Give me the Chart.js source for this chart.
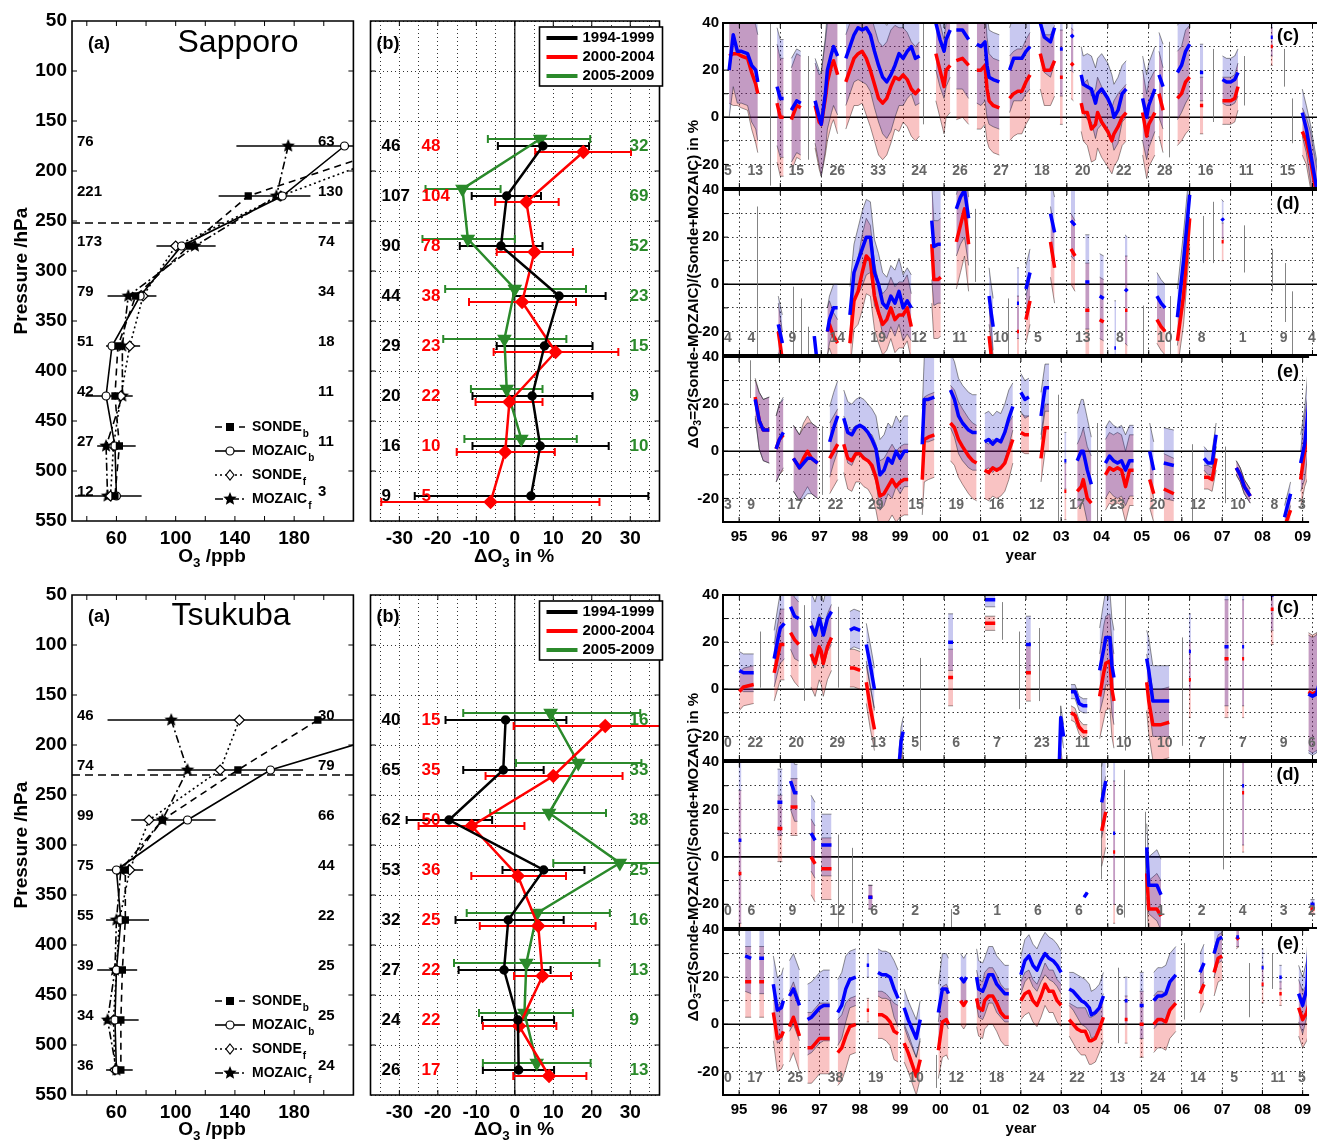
<!DOCTYPE html>
<html>
<head>
<meta charset="utf-8">
<title>Sonde vs MOZAIC ozone, Sapporo and Tsukuba</title>
<script src="https://cdn.jsdelivr.net/npm/chart.js@4.4.1/dist/chart.umd.min.js"></script>
<style>
  body { margin: 0; background: #fff; }
  #page { position: relative; width: 1317px; height: 1144px; overflow: hidden; font-family: "Liberation Sans", Arial, sans-serif; }
  canvas { position: absolute; }
  .t { position: absolute; white-space: nowrap; transform: translate(-50%, -50%); font-weight: bold; color: #000; }
  .t sub { font-size: 70%; vertical-align: -0.35em; line-height: 0; }
  .rot { transform: translate(-50%, -50%) rotate(-90deg); }
</style>
</head>
<body>
<div id="page">
  <canvas id="sapA" width="362" height="560" style="left:0px;top:0px"></canvas>
  <canvas id="sapB" width="306" height="560" style="left:362px;top:0px"></canvas>
  <canvas id="sapC" width="637" height="191" style="left:680px;top:10px"></canvas>
  <canvas id="sapD" width="637" height="191" style="left:680px;top:177px"></canvas>
  <canvas id="sapE" width="637" height="213" style="left:680px;top:344px"></canvas>
  <canvas id="tsuA" width="362" height="560" style="left:0px;top:574px"></canvas>
  <canvas id="tsuB" width="306" height="560" style="left:362px;top:574px"></canvas>
  <canvas id="tsuC" width="637" height="191" style="left:680px;top:582px"></canvas>
  <canvas id="tsuD" width="637" height="192" style="left:680px;top:749px"></canvas>
  <canvas id="tsuE" width="637" height="213" style="left:680px;top:917px"></canvas>

  <div class="t rot" style="left:21px;top:271px;font-size:19px">Pressure /hPa</div>
  <div class="t" style="left:212px;top:556px;font-size:19px">O<sub>3</sub> /ppb</div>
  <div class="t" style="left:514px;top:556px;font-size:19px">&Delta;O<sub>3</sub> in %</div>
  <div class="t" style="left:1021px;top:554px;font-size:15px">year</div>
  <div class="t rot" style="left:692px;top:284px;font-size:15px">&Delta;O<sub>3</sub>=2(Sonde-MOZAIC)/(Sonde+MOZAIC) in %</div>
  <div class="t" style="left:99px;top:43px;font-size:18px">(a)</div>
  <div class="t" style="left:238px;top:41px;font-size:32px;font-weight:normal">Sapporo</div>
  <div class="t" style="left:388px;top:43px;font-size:18px">(b)</div>
  <div class="t" style="left:1288px;top:35px;font-size:18px">(c)</div>
  <div class="t" style="left:1288px;top:203px;font-size:18px">(d)</div>
  <div class="t" style="left:1288px;top:371px;font-size:18px">(e)</div>

  <div class="t rot" style="left:21px;top:845px;font-size:19px">Pressure /hPa</div>
  <div class="t" style="left:212px;top:1129px;font-size:19px">O<sub>3</sub> /ppb</div>
  <div class="t" style="left:514px;top:1129px;font-size:19px">&Delta;O<sub>3</sub> in %</div>
  <div class="t" style="left:1021px;top:1127px;font-size:15px">year</div>
  <div class="t rot" style="left:692px;top:857px;font-size:15px">&Delta;O<sub>3</sub>=2(Sonde-MOZAIC)/(Sonde+MOZAIC) in %</div>
  <div class="t" style="left:99px;top:616px;font-size:18px">(a)</div>
  <div class="t" style="left:231px;top:614px;font-size:32px;font-weight:normal">Tsukuba</div>
  <div class="t" style="left:388px;top:616px;font-size:18px">(b)</div>
  <div class="t" style="left:1288px;top:607px;font-size:18px">(c)</div>
  <div class="t" style="left:1288px;top:774px;font-size:18px">(d)</div>
  <div class="t" style="left:1288px;top:943px;font-size:18px">(e)</div>
</div>

<script>
// ---------- profile panels (a) ----------
const levels = [175, 225, 275, 325, 375, 425, 475, 525];

const sapSondeB = [250, 149, 109, 73, 61, 59, 62, 59];
const sapMozB   = [214, 172, 104, 76, 57, 53, 59, 60];
const sapSondeF = [261, 171, 100, 78, 69, 63, 58, 56];
const sapMozF   = [176, 168, 113, 68, 64, 64, 53, 54];
const sapErrLo  = [141, 129, 87, 54, 53, 39, 47, 32];
const sapErrHi  = [240, 191, 127, 87, 76, 71, 73, 77];
const sapTrop   = 252;
const sapCntL   = [76, 221, 173, 79, 51, 42, 27, 12];
const sapCntR   = [63, 130, 74, 34, 18, 11, 11, 3];

const tsuSondeB = [196, 142, 91, 66, 66, 64, 63, 63];
const tsuMozB   = [276, 164, 108, 60, 63, 60, 59, 60];
const tsuSondeF = [143, 130, 82, 69, 62, 60, 58, 59];
const tsuMozF   = [97, 108, 91, 63, 60, 59, 54, 60];
const tsuErrLo  = [54, 81, 70, 53, 53, 47, 51, 53];
const tsuErrHi  = [240, 186, 127, 78, 82, 74, 75, 71];
const tsuTrop   = 230;
const tsuCntL   = [46, 74, 99, 75, 55, 39, 34, 36];
const tsuCntR   = [30, 79, 66, 44, 22, 25, 25, 24];

// ---------- difference panels (b) ----------
const periods = ['1994-1999', '2000-2004', '2005-2009'];

const sapBlk   = [7.3, -2.1, -3.6, 11.5, 7.7, 4.5, 6.6, 4.2];
const sapBlkLo = [-4.4, -11.2, -14.3, -0.4, -4.7, -11.0, -11.0, -26];
const sapBlkHi = [19.3, 6.8, 7.2, 23.6, 20.2, 20.2, 24.4, 34.7];
const sapRed   = [17.8, 3.0, 5.1, 1.9, 10.6, -1.4, -2.5, -6.3];
const sapRedLo = [5.3, -5.1, -4.7, -11.9, -5.5, -10.2, -15.1, -34.7];
const sapRedHi = [30.2, 11.4, 15.1, 15.9, 26.9, 7.2, 10.4, 22.0];
const sapGrn   = [6.6, -13.6, -12.2, 0, -2.7, -2.1, 1.7, null];
const sapGrnLo = [-7, -23.2, -24, -18.1, -18.6, -11.4, -13.1, null];
const sapGrnHi = [19.6, -3.7, 0, 18.5, 13.4, 7.2, 16.1, null];
const sapNBlk  = [46, 107, 90, 44, 29, 20, 16, 9];
const sapNRed  = [48, 104, 78, 38, 23, 22, 10, 5];
const sapNGrn  = [32, 69, 52, 23, 15, 9, 10, null];

const tsuBlk   = [-2.4, -3.0, -17.1, 7.5, -1.7, -2.8, 0.8, 1.0];
const tsuBlkLo = [-18, -13.4, -28.1, -3.2, -15.4, -14.6, -8.5, -8.3];
const tsuBlkHi = [13.4, 7.5, -5.9, 18.1, 12.7, 9.3, 10.2, 10.2];
const tsuRed   = [23.5, 10.0, -11.2, 0.8, 6.1, 7.2, 1.1, 8.9];
const tsuRedLo = [-0.3, -7.6, -25, -11.3, -9.1, -0.2, -8.3, -0.4];
const tsuRedHi = [40, 28, 2.5, 13.3, 21, 14.6, 10.8, 18.6];
const tsuGrn   = [9.3, 16.5, 8.9, 27.3, 5.8, 3.0, 2.5, 5.7];
const tsuGrnLo = [-13.4, 0.3, -6.4, 10.0, -12.5, -15.8, -9.3, -8.3];
const tsuGrnHi = [32.6, 32.9, 23.7, 40, 24.7, 22, 15.1, 19.7];
const tsuNBlk  = [40, 65, 62, 53, 32, 27, 24, 26];
const tsuNRed  = [15, 35, 50, 36, 25, 22, 22, 17];
const tsuNGrn  = [16, 33, 38, 25, 16, 13, 9, 13];

// ---------- time series panels (c)(d)(e): x = year, b = blue, r = red, s = spread, g = single profiles [year, lo, hi] ----------
const countYears = [1994, 1995, 1996, 1997, 1998, 1999, 2000, 2001, 2002, 2003, 2004, 2005, 2006, 2007, 2008, 2009];

const sapCx = [[1994.75,1994.85,1994.95,1995.05,1995.2,1995.3,1995.4,1995.45],[1995.92,1996.0,1996.08],[1996.27,1996.4,1996.5],
  [1996.85,1996.95,1997.0,1997.1,1997.15,1997.25,1997.3,1997.4],
  [1997.6,1997.7,1997.8,1997.9,1998.0,1998.1,1998.2,1998.3,1998.4,1998.5,1998.6,1998.7,1998.8,1998.9,1999.0,1999.1,1999.2,1999.3,1999.4],
  [1999.8,1999.9,2000.0,2000.05,2000.15],[2000.3,2000.45,2000.6],[2000.8,2000.9,2001.0,2001.05,2001.1,2001.2,2001.35],
  [2001.6,2001.7,2001.8,2001.9,2002.0,2002.1],[2002.35,2002.45,2002.6,2002.7],[2002.83,2002.9],[2003.1,2003.16],
  [2003.35,2003.4,2003.5,2003.6,2003.7,2003.75,2003.85,2004.0,2004.1,2004.15,2004.25,2004.35,2004.45],
  [2004.85,2004.95,2005.0,2005.15],[2005.25,2005.35],[2005.7,2005.8,2005.9,2006.0],[2006.25,2006.33],
  [2006.8,2006.9,2007.0,2007.1,2007.18],[2007.98,2008.03],[2008.75,2008.85,2008.95,2009.05,2009.15]];
const sapCb = [[20,35,28,28,27,22,20,15],[13,8,8],[3,7,6],[7,0,-3,10,20,27,30,26],
  [25,30,35,38,37,38,35,28,22,17,15,18,22,27,25,28,30,25,26],[40,33,28,33,37],[37,37,33],[31,30,32,22,17,16,15],
  [20,25,25,25,28,30],[40,34,32,38],[29,29],[35,34],[18,14,13,12,6,10,12,8,4,0,3,10,12],[8,0,5,12],[18,13],
  [19,22,28,31],[19,19],[16,15,15,16,19],[34,34],[2,-5,-15,-25,-35]];
const sapCr = [[26,27,27,26,25,19,14,10],[6,0,0],[-1,5,4],[5,-2,-3,8,15,22,24,18],
  [15,20,25,27,28,25,20,14,8,6,8,13,17,16,18,16,12,10,12],[27,20,13,20,22],[24,25,22],[20,20,22,12,7,5,4],
  [8,10,11,11,15,18],[27,20,20,24],[17,17],[23,22],[6,2,2,-5,-3,2,-2,-6,-10,-7,-4,0,2],[2,-8,-3,2],[10,3],
  [8,10,15,17],[5,5],[7,7,7,8,13],[30,30],[-6,-10,-18,-28,-38]];
const sapCs = [[20,22,22,22,22,24,25,25],[25,25,25],[22,22,22],[18,20,22,24,25,25,25,25],
  [20,20,20,22,22,24,24,24,24,24,24,24,22,22,20,20,20,20,20],[20,20,20,20,20],[25,25,25],[25,25,25,22,20,20,20],
  [18,18,18,18,18,18],[15,15,15,15],[20,20],[15,15],[12,12,14,14,15,15,15,15,14,14,14,12,12],[18,18,18,18],[18,18],
  [20,20,22,22],[12,12],[10,10,10,10,10],[8,8],[10,10,12,12,12]];
const sapCg = [[1995.76,-29,40],[1996.67,-18,26],[1999.49,-3,40],[2005.5,-17,32],[2006.58,-2,29],[2007.33,5,26],
  [2008.31,13,29],[2008.49,-11,8]];
const sapCn = ['5','13','15','26','33','24','26','27','18','20','22','28','16','11','15',''];

const sapDx = [[1995.95,1996.05],[1996.83,1996.88],[1997.15,1997.2,1997.3,1997.4],
  [1997.7,1997.8,1997.9,1998.0,1998.1,1998.2,1998.3,1998.4,1998.5,1998.6,1998.7,1998.8,1998.9,1999.0,1999.1,1999.2],
  [1999.7,1999.75,1999.85,1999.92],[2000.3,2000.4,2000.5,2000.6],[2001.1,2001.15,2001.2],[2001.78,2001.83],[2002.0,2002.1],
  [2002.6,2002.7],[2003.1,2003.2],[2003.45,2003.55],[2003.8,2003.9],[2004.16,2004.2],[2004.42,2004.48],[2005.2,2005.3,2005.4],
  [2005.7,2005.85,2006.0],[2006.78,2006.83]];
const sapDb = [[-17,-25],[-22,-30],[-20,-15,-10,-10],[-13,5,10,15,20,20,5,0,-8,-10,-5,-8,-3,-10,-7,-10],[27,16,17,17],
  [32,37,40,28],[-5,-12,-18],[-8,-8],[-2,5],[30,22],[27,25],[1,1],[-5,-6],[-27,-27],[-2,-3],[-5,-8,-10],[-14,10,38],[28,27]];
const sapDr = [[-20,-32],[null,null],[-20,-17,-22,-25],[-25,-7,-3,5,12,10,-5,-12,-17,-15,-10,-15,-13,-13,-10,-18],[17,2,2,3],
  [18,25,32,17],[-22,-30,-40],[-20,-20],[-15,-7],[18,7],[15,12],[-11,-11],[-15,-16],[null,null],[-11,-11],[-15,-18,-20],
  [-24,-5,28],[18,18]];
const sapDs = [[12,12],[0,0],[10,10,10,10],[12,12,14,16,16,15,14,13,13,13,13,14,14,14,14,14],[25,25,25,25],[20,20,20,20],
  [12,12,12],[15,15],[10,10],[15,15],[15,15],[20,20],[18,18],[20,20],[23,23],[10,10,10],[12,12,12],[8,8]];
const sapDg = [[1995.43,-30,33],[1996.31,-30,-1],[1996.51,-30,-6],[1996.67,-30,-18],[2000.76,1,32],[2001.57,-30,-6],
  [2004.87,-30,-9],[2005.52,-30,-5],[2006.33,9,29],[2006.58,9,35],[2007.33,5,25],[2008.0,-3,15],[2008.33,-16,9],[2008.49,-30,-3]];
const sapDn = ['4','4','9','14','19','12','11','10','5','13','8','10','8','1','9','4'];

const sapEx = [[1995.4,1995.5,1995.6,1995.75],[1995.92,1996.0,1996.1],[1996.35,1996.5,1996.6,1996.7,1996.8,1996.95],
  [1997.25,1997.35,1997.45],
  [1997.6,1997.7,1997.8,1997.9,1998.0,1998.1,1998.2,1998.3,1998.4,1998.5,1998.6,1998.7,1998.8,1998.9,1999.0,1999.1,1999.2],
  [1999.55,1999.6,1999.7,1999.85],[2000.25,2000.35,2000.45,2000.55,2000.7,2000.8,2000.9],
  [2001.1,2001.2,2001.3,2001.4,2001.5,2001.6,2001.7,2001.8],[2002.0,2002.1,2002.2],[2002.5,2002.6,2002.7],[2003.08,2003.13],
  [2003.4,2003.5,2003.55,2003.65,2003.75],[2004.1,2004.2,2004.3,2004.4,2004.5,2004.6,2004.7,2004.8],[2005.2,2005.3],
  [2005.55,2005.8],[2006.55,2006.65,2006.75,2006.85],[2007.35,2007.45,2007.55,2007.7],[2008.55,2008.7],[2008.95,2009.05,2009.15]];
const sapEb = [[22,13,9,9],[1,5,8],[-3,-7,-5,-3,-3,-5],[4,10,15],[14,8,7,10,11,10,8,5,1,-10,-8,-3,-5,0,-3,0,0],[3,22,22,23],
  [26,22,15,12,9,8,8],[4,5,3,5,4,8,14,19],[25,22,23],[15,27,27],[-4,-4],[-4,0,0,-8,-14],[-5,-2,-4,-5,-4,-8,-4,-4],[0,-8],
  [-5,-6],[-3,-5,-5,7],[-7,-10,-15,-19],[-28,-18],[-5,3,20]];
const sapEr = [[23,13,9,9],[1,5,7],[-3,-7,-3,0,-3,-5],[-3,0,3],[3,-3,-4,-1,-1,-3,-4,-6,-11,-19,-18,-15,-12,-15,-13,-12,-12],
  [-12,5,6,7],[12,10,5,2,-2,-4,-5],[-8,-9,-7,-8,-7,-5,0,5],[8,7,7],[-3,10,10],[-17,-17],[-17,-15,-12,-20,-22],
  [-10,-7,-8,-7,-8,-15,-8,-8],[-12,-18],[-16,-18],[-11,-11,-12,-3],[-7,-10,-15,-19],[-32,-25],[-12,0,8]];
const sapEs = [[8,12,13,14],[14,15,15],[14,14,15,15,15,15],[15,15,15],[12,13,13,12,12,12,12,13,14,15,15,15,15,15,15,15,15],
  [15,18,18,18],[16,16,16,16,16,16,16],[12,12,12,12,12,12,12,10],[8,8,8],[10,10,10],[12,12],[20,22,22,22,20],
  [15,15,15,15,15,15,15,15],[12,12],[15,15],[5,5,5,5],[3,3,3,3],[5,5],[12,15,18]];
const sapEg = [[1995.27,22.6,38.6],[1997.05,-18.5,10.7],[2002.91,-30,24],[2003.89,-30,12],[2006.25,-30,3],[2007.07,-22,2]];
const sapEn = ['3','9','17','22','29','15','19','16','12','17','23','20','12','10','8','3'];

const tsuCx = [[1995.0,1995.1,1995.35],[1995.85,1995.95,1996.0,1996.1],[1996.25,1996.35,1996.45],
  [1996.75,1996.85,1996.95,1997.0,1997.05,1997.15,1997.25],[1997.7,1997.8,1997.95],[1998.1,1998.2,1998.3],
  [1998.9,1998.95,1999.0],[2000.1,2000.22],[2001.0,2001.25],[2002.0,2002.12],[2002.8,2002.85,2002.92],
  [2003.1,2003.2,2003.3,2003.4,2003.5],[2003.8,2003.9,2003.95,2004.05,2004.1,2004.15],[2004.95,2005.0,2005.1,2005.3,2005.5],
  [2005.98,2006.03],[2006.85,2006.95],[2007.28,2007.33],[2007.98,2008.05],[2008.9,2009.0,2009.1,2009.2]];
const tsuCb = [[8,7,7],[13,22,26,28],[35,31,30],[27,23,30,27,23,30,33],[25,26,25],[19,10,0],[-32,-22,-18],[20,20],[38,38],
  [19,19],[-40,-12,-20],[-1,-1,-6,-7,-7],[8,17,22,22,10,5],[13,8,-5,-5,-5],[16,16],[18,18],[18,18],[40,40],[-2,-3,-2,5]];
const tsuCr = [[-1,1,2],[7,15,19,19],[24,21,19],[15,11,18,16,11,18,22],[9,9,8],[3,-8,-17],[-40,-35,-32],[5,5],[28,28],
  [7,7],[-40,-30,-40],[-10,-11,-16,-18,-18],[-3,7,11,12,0,-5],[3,-5,-15,-15,-14],[4,4],[13,13],[13,13],[34,34],[-1,-2,-1,0]];
const tsuCs = [[8,8,8],[12,14,15,15],[18,18,18],[14,14,14,14,14,14,14],[8,8,8],[9,9,9],[6,6,6],[12,12],[3,3],[12,12],
  [5,5,5],[3,3,3,3,3],[18,20,20,20,20,20],[12,14,15,15,15],[16,16],[25,25],[25,25],[15,15],[25,25,25,25]];
const tsuCg = [[1995.51,0.7,24.5],[1996.59,-4.9,35.7],[1997.42,0.7,35],[1999.42,-26,13.3],[2001.42,21,37],[2001.83,-8.4,24.5],
  [2002.32,-5,26],[2004.42,-26,40],[2005.82,-24,22]];
const tsuCn = ['0','22','20','29','13','5','6','7','23','11','10','10','7','7','9','6'];

const tsuDx = [[1994.98,1995.05],[1995.93,1996.05],[1996.25,1996.35,1996.42],[1996.75,1996.85],[1997.0,1997.25],
  [1998.15,1998.25],[2002.83,2002.88],[2003.42,2003.5],[2003.85,2003.95],[2004.13,2004.18],[2004.95,2005.0,2005.2,2005.3],
  [2007.28,2007.33],[2008.95,2009.05]];
const tsuDb = [[7,7],[23,23],[32,27,27],[10,7],[5,5],[-17,-17],[-38,-40],[-17,-15],[23,32],[10,10],[4,-12,-12,-16],[30,30],[-20,-20]];
const tsuDr = [[-7,-7],[12,12],[21,21,21],[0,-3],[-5,-5],[-17,-17],[-42,-44],[-38,-36],[11,19],[2,2],[-7,-22,-22,-25],[27,27],[-22,-22]];
const tsuDs = [[35,35],[14,14],[12,12,12],[16,16],[13,13],[5,5],[0,0],[0,0],[15,15],[30,30],[10,12,15,15],[25,25],[2,2]];
const tsuDg = [[1997.42,-30,9.4],[1997.75,-28,3.8],[2000.17,-30,-22],[2003.84,-9.5,40],[2004.4,-25.6,36.7],[2004.91,-30,19],
  [2006.82,-5.3,39.5]];
const tsuDn = ['0','6','9','12','6','2','3','1','6','6','6','1','2','4','3','2'];

const tsuEx = [[1995.15,1995.3],[1995.5,1995.62],[1995.85,1995.95,1996.05,1996.1],[1996.25,1996.35,1996.5],
  [1996.7,1996.8,1996.9,1997.0,1997.1,1997.25],[1997.45,1997.55,1997.65,1997.75,1997.9],[1998.17,1998.23],
  [1998.45,1998.55,1998.65,1998.75,1998.85,1998.95],[1999.1,1999.2,1999.4,1999.5],[1999.95,2000.05,2000.15,2000.2],
  [2000.5,2000.58,2000.65],[2000.9,2000.95,2001.05,2001.1,2001.2,2001.3,2001.4,2001.5,2001.6,2001.7],
  [2002.0,2002.1,2002.2,2002.3,2002.4,2002.5,2002.6,2002.7,2002.8,2002.9,2003.0],
  [2003.2,2003.3,2003.4,2003.5,2003.6,2003.7,2003.75,2003.85,2003.95,2004.05],[2004.58,2004.65],[2004.95,2005.05],
  [2005.3,2005.4,2005.5,2005.6,2005.7,2005.85],[2006.45,2006.55],[2006.8,2006.9,2007.0],[2007.35,2007.42],[2007.98,2008.03],
  [2008.42,2008.48],[2008.9,2009.0,2009.1,2009.18]];
const tsuEb = [[29,28],[28,28],[17,6,7,10],[12,15,8],[2,3,5,7,8,8],[5,8,15,19,20],[25,25],[22,21,21,20,15,11],[7,2,-6,2],
  [5,15,15,13],[20,18,20],[20,15,14,16,21,21,17,15,13,13],[21,27,29,25,23,27,30,28,27,25,22],[15,14,12,10,9,7,4,5,7,12],
  [10,10],[8,8],[10,12,12,13,18,21],[22,26],[30,36,37],[37,37],[24,24],[20,20],[13,8,15,40]];
const tsuEr = [[18,18],[18,18],[5,-6,-5,-3],[-1,3,-5],[-10,-10,-8,-6,-6,-6],[-12,-10,-5,-1,0],[6,6],[4,4,3,1,-3,-4],
  [-8,-12,-22,-15],[-11,1,2,0],[10,8,10],[11,7,6,10,12,12,9,5,3,3],[10,13,14,10,8,12,17,14,14,10,8],
  [2,0,-2,-3,-3,-7,-7,-6,-2,3],[2,2],[0,0],[0,2,2,1,6,9],[13,17],[22,28,29],[36,37],[17,17],[13,13],[7,2,5,10]];
const tsuEs = [[15,15],[15,15],[12,14,14,14],[15,15,15],[15,15,15,15,15,15],[14,14,14,12,12],[5,5],[10,10,10,10,12,12],
  [8,8,8,8],[12,15,15,15],[10,10,10],[12,12,12,12,12,12,12,12,12,12],[8,9,9,9,9,9,9,9,9,9,9],[7,8,9,10,10,10,10,10,10,10],
  [10,10],[14,14],[12,12,12,12,12,12],[8,8],[10,10,10],[4,4],[8,8],[5,5],[12,12,12,12]];
const tsuEg = [[1999.9,-27,-13],[2004.42,-8,24],[2006.05,2,34.5],[2007.67,3,26],[2008.25,15,30]];
const tsuEn = ['0','17','25','38','19','10','12','18','24','22','13','24','14','5','11','5'];

// ---------- ticks ----------
const ppbTicks = [40, 60, 80, 100, 120, 140, 160, 180, 200];
const ppbLabels = [60, 100, 140, 180];
const presTicks = [50, 100, 150, 200, 250, 300, 350, 400, 450, 500, 550];
const pctTicks = [-35, -30, -25, -20, -15, -10, -5, 0, 5, 10, 15, 20, 25, 30, 35];
const pctLabels = [-30, -20, -10, 0, 10, 20, 30];
const yearTicks = [1995, 1996, 1997, 1998, 1999, 2000, 2001, 2002, 2003, 2004, 2005, 2006, 2007, 2008, 2009];
const relTicks = [-20, -10, 0, 10, 20, 30, 40];
const relLabels = [40, 20, 0, -20];

const FONT = '"Liberation Sans", Arial, sans-serif';
Chart.defaults.font.family = FONT;
Chart.defaults.color = '#000';
Chart.defaults.animation = false;
Chart.defaults.events = [];
Chart.defaults.plugins.legend.display = false;
Chart.defaults.plugins.tooltip.enabled = false;

// filled five point star for MOZAICf
function makeStar(r) {
  const c = document.createElement('canvas');
  c.width = c.height = 2 * r + 2;
  const g = c.getContext('2d');
  g.beginPath();
  for (let i = 0; i < 10; i++) {
    const a = -Math.PI / 2 + i * Math.PI / 5;
    const rr = i % 2 ? r * 0.45 : r;
    g.lineTo(r + 1 + rr * Math.cos(a), r + 1 + rr * Math.sin(a));
  }
  g.closePath();
  g.fillStyle = '#000';
  g.fill();
  return c;
}
const star = makeStar(7);

const ticksAt = arr => s => { s.ticks = arr.map(v => ({value: v})); };

// ---------- plugins ----------
function frame(o) {
  return {
    id: 'frame',
    afterDraw(chart) {
      const {ctx, chartArea: a, scales: {x, y}} = chart;
      ctx.save();
      ctx.strokeStyle = '#000';
      ctx.lineWidth = 1;
      ctx.beginPath();
      const L = 5;
      x.ticks.forEach(t => {
        if (o.labeledOnly && t.label === '') return;
        const p = x.getPixelForValue(t.value);
        if (p <= a.left + 1 || p >= a.right - 1) return;
        ctx.moveTo(p, a.bottom); ctx.lineTo(p, a.bottom - L);
        ctx.moveTo(p, a.top); ctx.lineTo(p, a.top + L);
      });
      y.ticks.forEach(t => {
        const p = y.getPixelForValue(t.value);
        if (p <= a.top + 1 || p >= a.bottom - 1) return;
        ctx.moveTo(a.left, p); ctx.lineTo(a.left + L, p);
        if (!o.open) { ctx.moveTo(a.right, p); ctx.lineTo(a.right - L, p); }
      });
      ctx.stroke();
      ctx.lineWidth = o.width || 1.6;
      ctx.beginPath();
      if (o.open) {
        ctx.moveTo(a.right + 2, a.top); ctx.lineTo(a.left, a.top);
        ctx.lineTo(a.left, a.bottom); ctx.lineTo(a.right + 2, a.bottom);
      } else {
        ctx.rect(a.left, a.top, a.right - a.left, a.bottom - a.top);
      }
      ctx.stroke();
      ctx.restore();
    }
  };
}

function refLines(lines) {
  return {
    id: 'refLines',
    beforeDatasetsDraw(chart) {
      const {ctx, chartArea: a, scales} = chart;
      lines.forEach(l => {
        ctx.save();
        ctx.strokeStyle = '#000';
        ctx.lineWidth = l.width;
        ctx.setLineDash(l.dash || []);
        ctx.beginPath();
        if (l.axis === 'y') {
          const p = scales.y.getPixelForValue(l.value);
          ctx.moveTo(a.left, p); ctx.lineTo(a.right, p);
        } else {
          const p = scales.x.getPixelForValue(l.value);
          ctx.moveTo(p, a.top); ctx.lineTo(p, a.bottom);
        }
        ctx.stroke();
        ctx.restore();
      });
    }
  };
}

// thin grey vertical ranges of single profiles
function singles(list) {
  return {
    id: 'singles',
    beforeDatasetsDraw(chart) {
      const {ctx, chartArea: a, scales: {x, y}} = chart;
      ctx.save();
      ctx.beginPath();
      ctx.rect(a.left, a.top, a.right - a.left, a.bottom - a.top);
      ctx.clip();
      ctx.strokeStyle = 'rgba(110,110,110,0.85)';
      ctx.lineWidth = 1;
      ctx.beginPath();
      list.forEach(([yr, lo, hi]) => {
        const px = Math.round(x.getPixelForValue(yr)) + 0.5;
        ctx.moveTo(px, y.getPixelForValue(lo));
        ctx.lineTo(px, y.getPixelForValue(hi));
      });
      ctx.stroke();
      ctx.restore();
    }
  };
}

const errBars = {
  id: 'errBars',
  beforeDatasetsDraw(chart) {
    const {ctx, chartArea: a, scales: {x, y}} = chart;
    ctx.save();
    ctx.beginPath();
    ctx.rect(a.left, a.top, a.right - a.left, a.bottom - a.top);
    ctx.clip();
    chart.data.datasets.forEach(ds => {
      if (!ds.errLo) return;
      ctx.strokeStyle = ds.errColor || '#000';
      ctx.lineWidth = ds.errWidth || 2;
      ds.data.forEach((pt, i) => {
        if (pt.x === null || ds.errLo[i] === null) return;
        const py = y.getPixelForValue(pt.y);
        const x1 = x.getPixelForValue(ds.errLo[i]);
        const x2 = x.getPixelForValue(ds.errHi[i]);
        ctx.beginPath();
        ctx.moveTo(x1, py); ctx.lineTo(x2, py);
        if (ds.errCap) {
          ctx.moveTo(x1, py - ds.errCap); ctx.lineTo(x1, py + ds.errCap);
          ctx.moveTo(x2, py - ds.errCap); ctx.lineTo(x2, py + ds.errCap);
        }
        ctx.stroke();
      });
    });
    ctx.restore();
  }
};

function levelCounts(cols) {
  return {
    id: 'levelCounts',
    afterDatasetsDraw(chart) {
      const {ctx, chartArea: a, scales: {y}} = chart;
      ctx.save();
      ctx.textBaseline = 'middle';
      ctx.textAlign = 'left';
      cols.forEach(c => {
        ctx.font = c.font;
        ctx.fillStyle = c.color;
        c.vals.forEach((v, i) => {
          if (v === null) return;
          ctx.fillText(String(v), a.left + c.dx, y.getPixelForValue(levels[i]) + c.dy);
        });
      });
      ctx.restore();
    }
  };
}

function drawMarker(ctx, style, x, y, fill) {
  ctx.save();
  ctx.setLineDash([]);
  ctx.lineWidth = 1.2;
  ctx.strokeStyle = '#000';
  ctx.fillStyle = fill;
  ctx.beginPath();
  if (style === 'rect') { ctx.rect(x - 4, y - 4, 8, 8); ctx.fill(); }
  else if (style === 'circle') { ctx.arc(x, y, 4, 0, 2 * Math.PI); ctx.fill(); ctx.stroke(); }
  else if (style === 'rectRot') { ctx.moveTo(x, y - 5); ctx.lineTo(x + 4, y); ctx.lineTo(x, y + 5); ctx.lineTo(x - 4, y); ctx.closePath(); ctx.fill(); ctx.stroke(); }
  else { ctx.drawImage(style, x - style.width / 2, y - style.height / 2); }
  ctx.restore();
}

const profLegend = {
  id: 'profLegend',
  afterDraw(chart) {
    const {ctx, chartArea: a} = chart;
    chart.data.datasets.forEach((ds, i) => {
      const y = a.top + 406 + i * 24;
      const x0 = a.left + 143, x1 = a.left + 173;
      ctx.save();
      ctx.strokeStyle = '#000';
      ctx.lineWidth = 1.6;
      ctx.setLineDash(ds.borderDash || []);
      ctx.beginPath(); ctx.moveTo(x0, y); ctx.lineTo(x1, y); ctx.stroke();
      drawMarker(ctx, ds.pointStyle, (x0 + x1) / 2, y, ds.pointBackgroundColor || '#000');
      ctx.fillStyle = '#000';
      ctx.textBaseline = 'middle';
      ctx.font = 'bold 14px ' + FONT;
      ctx.fillText(ds.label, x1 + 7, y);
      const w = ctx.measureText(ds.label).width;
      ctx.font = 'bold 10px ' + FONT;
      ctx.fillText(ds.sub, x1 + 8 + w, y + 7);
      ctx.restore();
    });
  }
};

const periodLegend = {
  id: 'periodLegend',
  afterDraw(chart) {
    const {ctx, chartArea: a} = chart;
    const bx = a.left + 169, by = a.top + 6;
    ctx.save();
    ctx.fillStyle = '#fff';
    ctx.fillRect(bx, by, 123, 59);
    ctx.strokeStyle = '#000';
    ctx.lineWidth = 1.6;
    ctx.strokeRect(bx, by, 123, 59);
    chart.data.datasets.forEach((ds, i) => {
      const y = by + 11 + i * 19;
      ctx.strokeStyle = ds.borderColor;
      ctx.lineWidth = 4;
      ctx.beginPath(); ctx.moveTo(bx + 7, y); ctx.lineTo(bx + 38, y); ctx.stroke();
      ctx.fillStyle = '#000';
      ctx.font = 'bold 15px ' + FONT;
      ctx.textBaseline = 'middle';
      ctx.fillText(ds.label, bx + 43, y);
    });
    ctx.restore();
  }
};

function yearCounts(vals) {
  return {
    id: 'yearCounts',
    afterDatasetsDraw(chart) {
      const {ctx, chartArea: a, scales: {x, y}} = chart;
      ctx.save();
      ctx.font = 'bold 14px ' + FONT;
      ctx.fillStyle = '#666';
      ctx.textBaseline = 'middle';
      ctx.textAlign = 'left';
      vals.forEach((v, j) => {
        let px = x.getPixelForValue(countYears[j] + 0.2);
        px = Math.min(Math.max(px, a.left + 1), a.right - 9);
        ctx.fillText(v, px, y.getPixelForValue(-23));
      });
      ctx.restore();
    }
  };
}

// ---------- charts ----------
function profileChart(id, sondeB, mozB, sondeF, mozF, errLo, errHi, trop, cntL, cntR) {
  const pts = v => levels.map((p, i) => ({x: v[i], y: p}));
  new Chart(document.getElementById(id), {
    type: 'line',
    data: {
      datasets: [
        {label: 'SONDE', sub: 'b', data: pts(sondeB), borderColor: '#000', borderWidth: 1.6, borderDash: [7, 5],
         pointStyle: 'rect', pointRadius: 4, pointBackgroundColor: '#000', pointBorderColor: '#000'},
        {label: 'MOZAIC', sub: 'b', data: pts(mozB), borderColor: '#000', borderWidth: 1.6,
         pointStyle: 'circle', pointRadius: 4, pointBackgroundColor: '#fff', pointBorderColor: '#000', pointBorderWidth: 1.2,
         errLo: errLo, errHi: errHi, errWidth: 1.6},
        {label: 'SONDE', sub: 'f', data: pts(sondeF), borderColor: '#000', borderWidth: 1.6, borderDash: [2, 3],
         pointStyle: 'rectRot', pointRadius: 5, pointBackgroundColor: '#fff', pointBorderColor: '#000', pointBorderWidth: 1.2},
        {label: 'MOZAIC', sub: 'f', data: pts(mozF), borderColor: '#000', borderWidth: 1.6, borderDash: [8, 3, 2, 3],
         pointStyle: star, pointRadius: 7, pointBackgroundColor: '#000'}
      ]
    },
    options: {
      responsive: false,
      layout: {padding: {top: 21, right: 6, left: 0, bottom: 0}},
      scales: {
        x: {type: 'linear', min: 30, max: 220, afterBuildTicks: ticksAt(ppbTicks),
            ticks: {autoSkip: false, maxRotation: 0, padding: 6, font: {size: 19, weight: 'bold'},
                    callback: v => (ppbLabels.includes(v) ? v : '')},
            grid: {display: false, drawTicks: false}, border: {display: false},
            afterFit: s => { s.height = 39; }},
        y: {type: 'linear', reverse: true, min: 50, max: 550, afterBuildTicks: ticksAt(presTicks),
            ticks: {autoSkip: false, padding: 5, font: {size: 19, weight: 'bold'}},
            grid: {display: false, drawTicks: false}, border: {display: false},
            afterFit: s => { s.width = 72; }}
      }
    },
    plugins: [
      refLines([{axis: 'y', value: trop, width: 1.6, dash: [8, 5]}]),
      errBars,
      levelCounts([
        {dx: 5, dy: -4, vals: cntL, color: '#000', font: 'bold 15px ' + FONT},
        {dx: 246, dy: -4, vals: cntR, color: '#000', font: 'bold 15px ' + FONT}
      ]),
      frame({labeledOnly: false}),
      profLegend
    ]
  });
}

function diffChart(id, blk, blkLo, blkHi, red, redLo, redHi, grn, grnLo, grnHi, nB, nR, nG) {
  const pts = (v, dp) => levels.map((p, i) => ({x: v[i], y: p + dp}));
  const GREEN = '#2b8a2b';
  new Chart(document.getElementById(id), {
    type: 'line',
    data: {
      datasets: [
        {label: periods[0], data: pts(blk, 0), borderColor: '#000', borderWidth: 2.5, pointStyle: 'circle', pointRadius: 3.5,
         pointBackgroundColor: '#000', pointBorderColor: '#000', errLo: blkLo, errHi: blkHi, errColor: '#000', errWidth: 2, errCap: 4},
        {label: periods[1], data: pts(red, 6), borderColor: '#ff0000', borderWidth: 2.5, pointStyle: 'rectRot', pointRadius: 5.5,
         pointBackgroundColor: '#ff0000', pointBorderColor: '#ff0000', errLo: redLo, errHi: redHi, errColor: '#ff0000', errWidth: 2, errCap: 4},
        {label: periods[2], data: pts(grn, -7), borderColor: GREEN, borderWidth: 2.5, pointStyle: 'triangle', rotation: 180, pointRadius: 6,
         pointBackgroundColor: GREEN, pointBorderColor: GREEN, errLo: grnLo, errHi: grnHi, errColor: GREEN, errWidth: 2, errCap: 4}
      ]
    },
    options: {
      responsive: false,
      layout: {padding: {top: 21, right: 6, left: 4, bottom: 0}},
      scales: {
        x: {type: 'linear', min: -37.5, max: 37.6, afterBuildTicks: ticksAt(pctTicks),
            ticks: {autoSkip: false, maxRotation: 0, padding: 6, font: {size: 19, weight: 'bold'},
                    callback: v => (pctLabels.includes(v) ? v : '')},
            grid: {color: '#333', lineWidth: 1, drawTicks: false}, border: {display: false, dash: [1, 3]},
            afterFit: s => { s.height = 39; }},
        y: {type: 'linear', reverse: true, min: 50, max: 550, afterBuildTicks: ticksAt(presTicks),
            ticks: {display: false},
            grid: {color: '#333', lineWidth: 1, drawTicks: false}, border: {display: false, dash: [1, 3]},
            afterFit: s => { s.width = 0; }}
      }
    },
    plugins: [
      refLines([{axis: 'x', value: 0, width: 1.2}]),
      errBars,
      levelCounts([
        {dx: 11, dy: 0, vals: nB, color: '#000', font: 'bold 17px ' + FONT},
        {dx: 51, dy: 0, vals: nR, color: '#ff0000', font: 'bold 17px ' + FONT},
        {dx: 259, dy: 0, vals: nG, color: GREEN, font: 'bold 17px ' + FONT}
      ]),
      frame({labeledOnly: true}),
      periodLegend
    ]
  });
}

// flatten segments into one point list, with a null point between segments
function flat(X, f) {
  const out = [];
  X.forEach((seg, k) => {
    if (k > 0) out.push({x: (X[k - 1][X[k - 1].length - 1] + seg[0]) / 2, y: null});
    seg.forEach((x, i) => out.push({x: x, y: f(k, i)}));
  });
  return out;
}

function tsChart(id, X, B, R, S, G, counts, showX) {
  const val = A => (k, i) => A[k][i];
  const up = A => (k, i) => (A[k][i] === null ? null : A[k][i] + S[k][i]);
  const dn = A => (k, i) => (A[k][i] === null ? null : A[k][i] - S[k][i]);
  const line = (data, color) => ({data, borderColor: color, borderWidth: 3.5, pointRadius: 0, fill: false,
                                  borderJoinStyle: 'round', tension: 0});
  const band = (data, color, fill) => ({data, borderColor: 'rgba(30,30,30,0.7)', borderWidth: 0.7, pointRadius: 0,
                                        fill: fill ? '+1' : false, backgroundColor: color || 'rgba(0,0,0,0)', tension: 0});
  // lower index is drawn on top: blue band is laid over the pink one
  new Chart(document.getElementById(id), {
    type: 'line',
    data: {
      datasets: [
        line(flat(X, val(B)), '#0000ff'),
        line(flat(X, val(R)), '#ff0000'),
        band(flat(X, up(B)), 'rgba(36,36,196,0.25)', true),
        band(flat(X, dn(B)), null, false),
        band(flat(X, up(R)), 'rgba(235,40,40,0.28)', true),
        band(flat(X, dn(R)), null, false)
      ]
    },
    options: {
      responsive: false,
      layout: {padding: {top: 12, right: 0, left: 0, bottom: showX ? 0 : 12}},
      scales: {
        x: {type: 'linear', min: 1994.6, max: 2009.11, afterBuildTicks: ticksAt(yearTicks),
            ticks: {display: showX, autoSkip: false, maxRotation: 0, padding: 6, font: {size: 15, weight: 'bold'},
                    callback: v => String(Math.round(v) % 100).padStart(2, '0')},
            grid: {color: '#333', lineWidth: 1, drawTicks: false}, border: {display: false, dash: [1.5, 3]},
            afterFit: s => { s.height = showX ? 35 : 0; }},
        y: {type: 'linear', min: -30, max: 40, afterBuildTicks: ticksAt(relTicks),
            ticks: {autoSkip: false, padding: 4, font: {size: 15, weight: 'bold'},
                    callback: v => (relLabels.includes(v) ? v : '')},
            grid: {color: '#333', lineWidth: 1, drawTicks: false}, border: {display: false, dash: [1.5, 3]},
            afterFit: s => { s.width = 43; }}
      }
    },
    plugins: [
      refLines([{axis: 'y', value: 0, width: 1.6}]),
      singles(G),
      yearCounts(counts),
      frame({open: true, width: 2})
    ]
  });
}

profileChart('sapA', sapSondeB, sapMozB, sapSondeF, sapMozF, sapErrLo, sapErrHi, sapTrop, sapCntL, sapCntR);
profileChart('tsuA', tsuSondeB, tsuMozB, tsuSondeF, tsuMozF, tsuErrLo, tsuErrHi, tsuTrop, tsuCntL, tsuCntR);
diffChart('sapB', sapBlk, sapBlkLo, sapBlkHi, sapRed, sapRedLo, sapRedHi, sapGrn, sapGrnLo, sapGrnHi, sapNBlk, sapNRed, sapNGrn);
diffChart('tsuB', tsuBlk, tsuBlkLo, tsuBlkHi, tsuRed, tsuRedLo, tsuRedHi, tsuGrn, tsuGrnLo, tsuGrnHi, tsuNBlk, tsuNRed, tsuNGrn);
tsChart('sapC', sapCx, sapCb, sapCr, sapCs, sapCg, sapCn, false);
tsChart('sapD', sapDx, sapDb, sapDr, sapDs, sapDg, sapDn, false);
tsChart('sapE', sapEx, sapEb, sapEr, sapEs, sapEg, sapEn, true);
tsChart('tsuC', tsuCx, tsuCb, tsuCr, tsuCs, tsuCg, tsuCn, false);
tsChart('tsuD', tsuDx, tsuDb, tsuDr, tsuDs, tsuDg, tsuDn, false);
tsChart('tsuE', tsuEx, tsuEb, tsuEr, tsuEs, tsuEg, tsuEn, true);
</script>
</body>
</html>
